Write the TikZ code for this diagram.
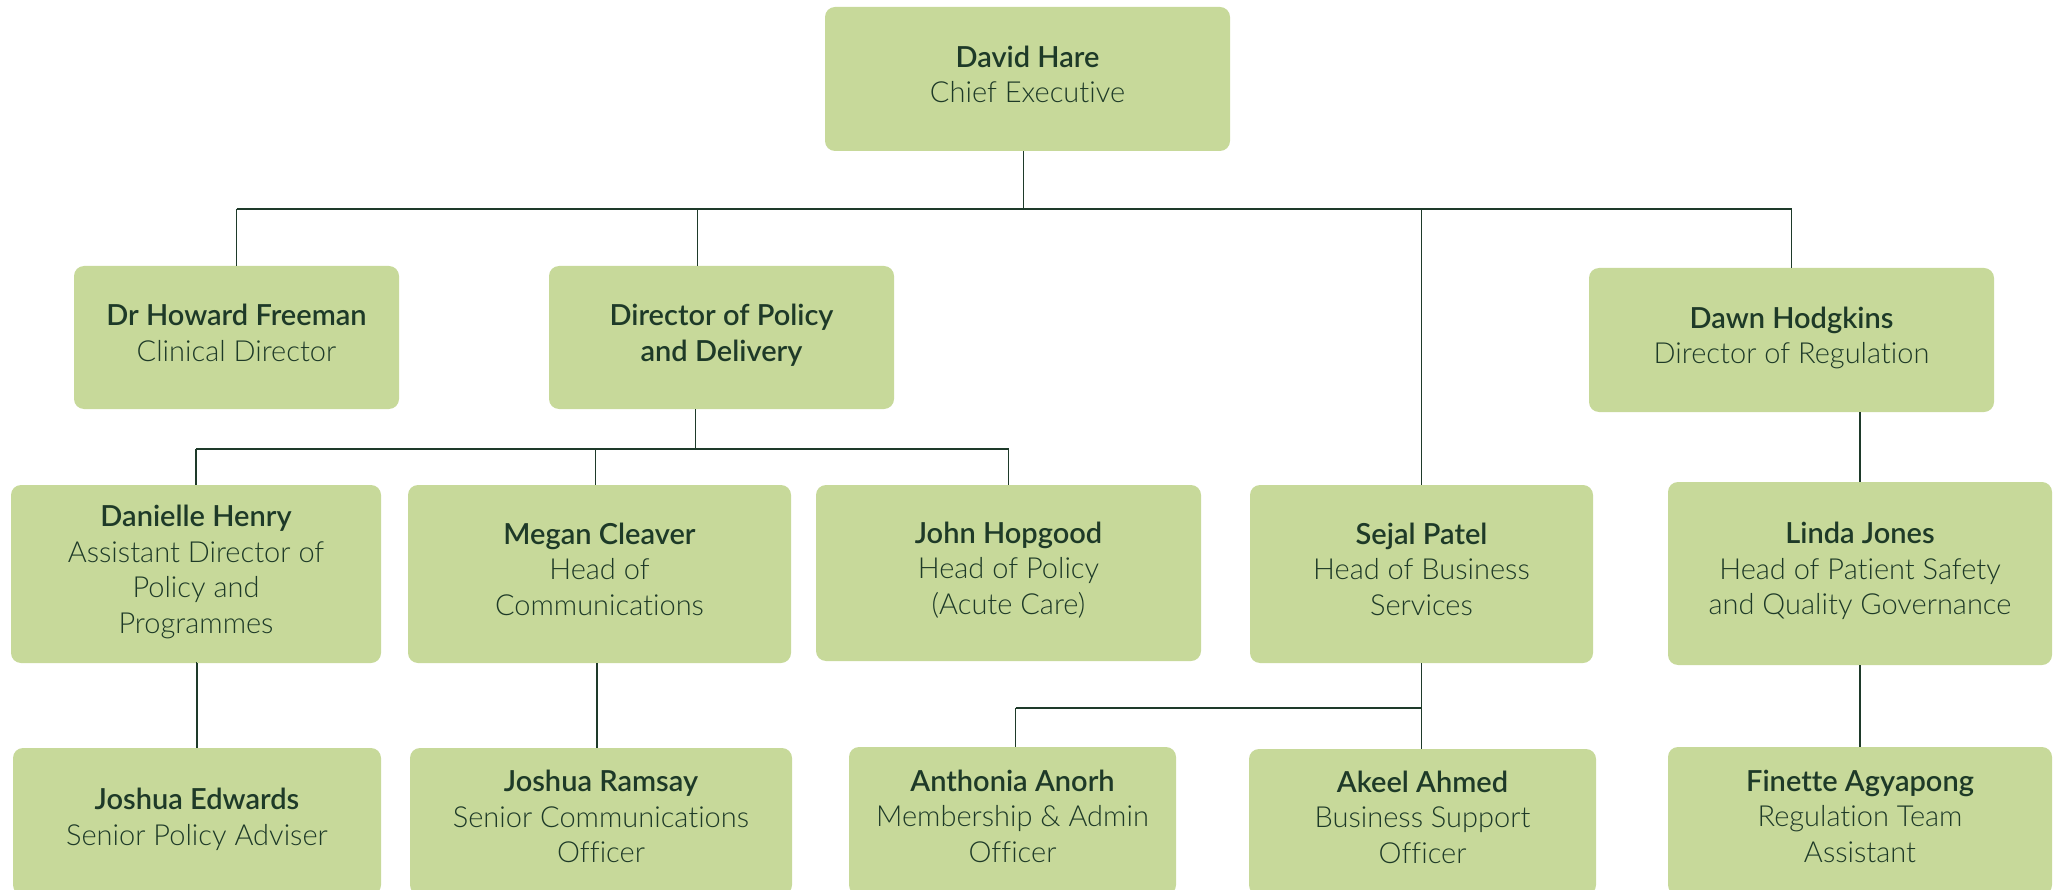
\documentclass[tikz,border=0pt]{standalone}
\usepackage{fontspec}
\setmainfont{Lato}[UprightFont=* Light, BoldFont=* Semibold, Ligatures=NoCommon]
\definecolor{boxfill}{HTML}{C7D99A}
\definecolor{ink}{HTML}{1E3A28}
\definecolor{wire}{HTML}{1E3A2A}
\begin{document}
\begin{tikzpicture}[x=1pt,y=-1pt,
  orgbox/.style={draw=none, fill=boxfill, rounded corners=10pt, inner sep=0pt,
    align=center, text=ink, text depth=9.5pt, font=\fontsize{29}{35.5}\selectfont},
  bus/.style={draw=wire, line width=2.2pt},
  drop/.style={draw=wire, line width=1.6pt}]
\useasboundingbox (0,0) rectangle (2063,890);
\clip (0,0) rectangle (2063,890);
% row 1
\node[orgbox, minimum width=405pt, minimum height=144pt] (ceo) at (1027.5,79) {\textbf{David Hare}\\Chief Executive};
% row 2
\node[orgbox, minimum width=325pt, minimum height=143pt] (hf) at (236.5,337.5) {\textbf{Dr Howard Freeman}\\Clinical Director};
\node[orgbox, minimum width=345pt, minimum height=143pt] (dpd) at (721.5,337.5) {\textbf{Director of Policy}\\\textbf{and Delivery}};
\node[orgbox, minimum width=405pt, minimum height=144pt] (dawn) at (1791.5,340) {\textbf{Dawn Hodgkins}\\Director of Regulation};
% row 3
\node[orgbox, minimum width=370pt, minimum height=178pt] (dan) at (196,574) {\textbf{Danielle Henry}\\Assistant Director of\\Policy and\\Programmes};
\node[orgbox, minimum width=383pt, minimum height=178pt] (meg) at (599.5,574) {\textbf{Megan Cleaver}\\Head of\\Communications};
\node[orgbox, minimum width=385pt, minimum height=176pt] (john) at (1008.5,573) {\textbf{John Hopgood}\\Head of Policy\\(Acute Care)};
\node[orgbox, minimum width=343pt, minimum height=178pt] (sejal) at (1421.5,574) {\textbf{Sejal Patel}\\Head of Business\\Services};
\node[orgbox, minimum width=384pt, minimum height=183pt] (linda) at (1860,573.5) {\textbf{Linda Jones}\\Head of Patient Safety\\and Quality Governance};
% row 4
\node[orgbox, minimum width=368pt, minimum height=147pt] (je) at (197,821.5) {\textbf{Joshua Edwards}\\Senior Policy Adviser};
\node[orgbox, minimum width=382pt, minimum height=147pt] (jr) at (601,821.5) {\textbf{Joshua Ramsay}\\Senior Communications\\Officer};
\node[orgbox, minimum width=327pt, minimum height=148pt] (aa) at (1012.5,821) {\textbf{Anthonia Anorh}\\Membership \& Admin\\Officer};
\node[orgbox, minimum width=347pt, minimum height=146pt] (ak) at (1422.5,822) {\textbf{Akeel Ahmed}\\Business Support\\Officer};
\node[orgbox, minimum width=384pt, minimum height=148pt] (fa) at (1860,821) {\textbf{Finette Agyapong}\\Regulation Team\\Assistant};
% bus coordinates
\coordinate (mainbus) at (0,209);
\coordinate (policybus) at (0,449);
\coordinate (busbus) at (0,708);
% main bus
\draw[bus] (hf.north |- mainbus) -- (dawn.north |- mainbus);
\draw[drop] ([xshift=-4pt]ceo.south) -- ([xshift=-4pt]ceo.south |- mainbus);
\draw[drop] (hf.north) -- (hf.north |- mainbus);
\draw[drop] ([xshift=-24pt]dpd.north) -- ([xshift=-24pt]dpd.north |- mainbus);
\draw[drop] (sejal.north) -- (sejal.north |- mainbus);
\draw[drop] (dawn.north) -- (dawn.north |- mainbus);
% policy bus
\draw[bus] (dan.north |- policybus) -- (john.north |- policybus);
\draw[drop] ([xshift=-26pt]dpd.south) -- ([xshift=-26pt]dpd.south |- policybus);
\draw[drop] (dan.north) -- (dan.north |- policybus);
\draw[drop] ([xshift=-4pt]meg.north) -- ([xshift=-4pt]meg.north |- policybus);
\draw[drop] (john.north) -- (john.north |- policybus);
% lower drops
\draw[drop] (dan.south) -- (dan.south -| je.north);
\draw[drop] (dan.south -| je.north) -- (je.north);
\draw[drop] ([xshift=-4pt]jr.north |- meg.south) -- ([xshift=-4pt]jr.north);
% business bus
\draw[drop] (sejal.south) -- (sejal.south |- ak.north);
\draw[bus] ([xshift=3pt]aa.north |- busbus) -- (sejal.south |- busbus);
\draw[drop] ([xshift=3pt]aa.north |- busbus) -- ([xshift=3pt]aa.north);
% regulation
\draw[drop] (dawn.south -| linda.north) -- (linda.north);
\draw[drop] (linda.south) -- (fa.north);
\end{tikzpicture}
\end{document}
